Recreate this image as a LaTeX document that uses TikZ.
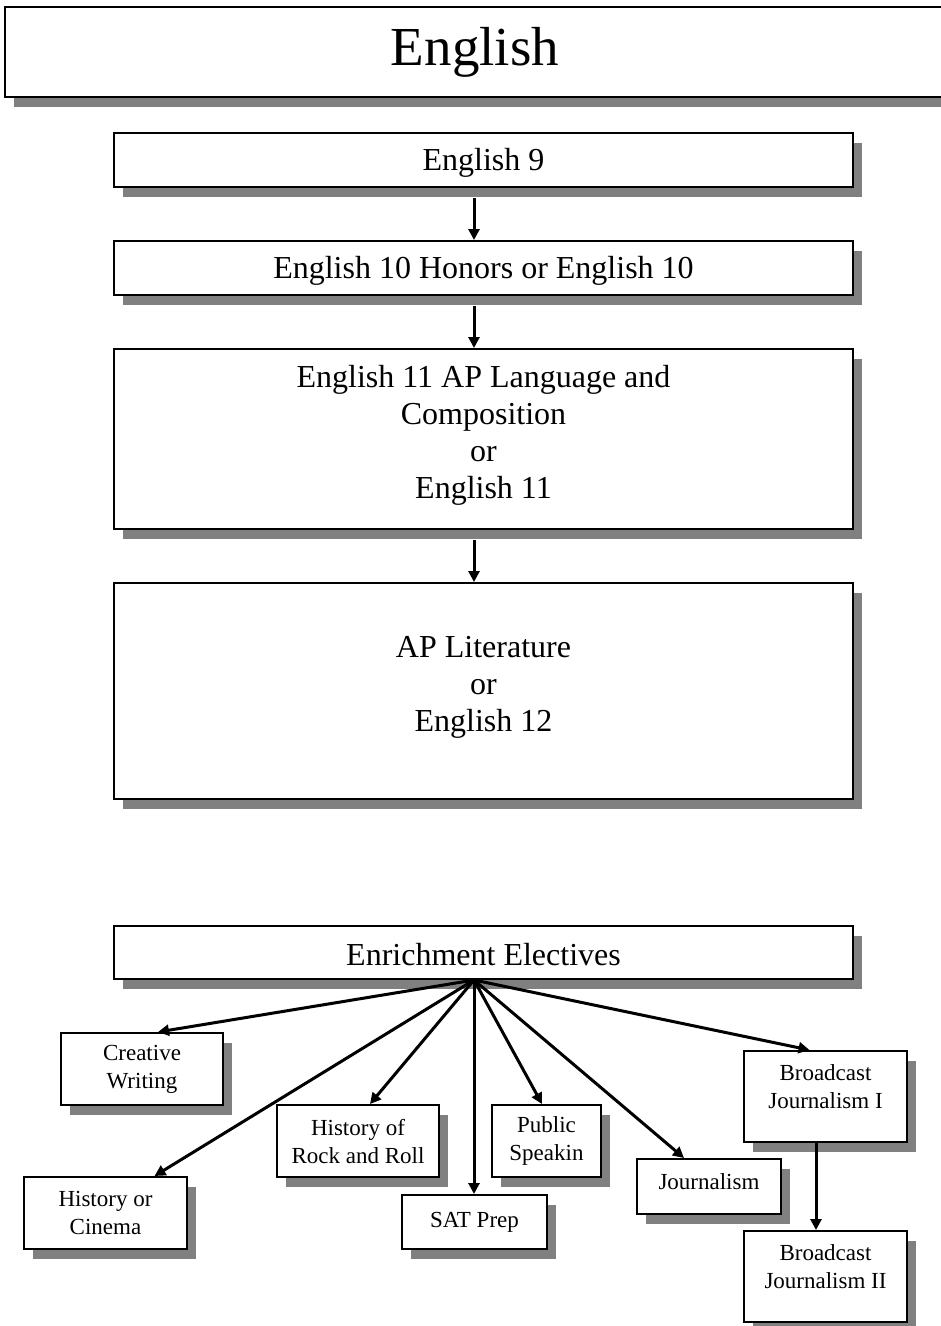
\documentclass[tikz,border=0pt]{standalone}
\usepackage{fontspec}
\setmainfont{Liberation Serif}
\usetikzlibrary{arrows.meta,shadows}

\begin{document}
\begin{tikzpicture}[x=1pt,y=1pt,
	course/.style={draw,line width=2pt,fill=white,align=center,inner sep=0pt,
		drop shadow={shadow xshift=9pt,shadow yshift=-10pt,fill=black!50,opacity=1},
		font=\fontsize{32}{37}\selectfont},
	elective/.style={course,font=\fontsize{23}{28}\selectfont},
	link/.style={line width=3pt,-{Triangle[length=11pt,width=11pt]}}]

					\useasboundingbox (0,0) rectangle (941,-1326);

					\node[course,minimum width=940,minimum height=90,font=\fontsize{55}{60}\selectfont] (title) at (475,-52) {English};

					\node[course,minimum width=739,minimum height=54] (e9) at (483.5,-160) {\rule{0pt}{28pt}English 9};
					\node[course,minimum width=739,minimum height=54] (e10) at (483.5,-268) {\rule{0pt}{28pt}English 10 Honors or English 10};
					\node[course,minimum width=739,minimum height=180] (e11) at (483.5,-439) {English 11 AP Language and\\Composition\\or\\English 11\rule[-14pt]{0pt}{0pt}};
					\node[course,minimum width=739,minimum height=216] (e12) at (483.5,-691) {AP Literature\\or\\English 12\rule[-15pt]{0pt}{0pt}};
					\node[course,minimum width=739,minimum height=53] (enrich) at (483.5,-952.5) {\rule{0pt}{26pt}Enrichment Electives};

					\node[elective,minimum width=162,minimum height=72] (cw) at (142,-1069) {Creative\\Writing};
					\node[elective,minimum width=163,minimum height=72] (hc) at (105.5,-1213) {History or\\Cinema};
					\node[elective,minimum width=162,minimum height=72] (rock) at (358,-1141) {History of\\Rock and Roll};
					\node[elective,minimum width=145,minimum height=54] (sat) at (474.5,-1222) {SAT Prep};
					\node[elective,minimum width=109,minimum height=72] (pub) at (546.5,-1141) {Public\\Speakin};
					\node[elective,minimum width=144,minimum height=55] (jour) at (709,-1186.5) {Journalism\rule[-9pt]{0pt}{0pt}};
					\node[elective,minimum width=163,minimum height=91] (bj1) at (825.5,-1096.5) {Broadcast\\Journalism I\rule[-19pt]{0pt}{0pt}};
					\node[elective,minimum width=163,minimum height=91] (bj2) at (825.5,-1276.5) {Broadcast\\Journalism II\rule[-19pt]{0pt}{0pt}};

					\coordinate (hub) at ([xshift=-9.5pt]enrich.south);

					\draw[link] ([xshift=-9.5pt,yshift=-10pt]e9.south) -- ([xshift=-9.5pt]e10.north);
					\draw[link] ([xshift=-9.5pt,yshift=-10pt]e10.south) -- ([xshift=-9.5pt]e11.north);
					\draw[link] ([xshift=-9.5pt,yshift=-10pt]e11.south) -- ([xshift=-9.5pt]e12.north);

					\draw[link] (hub) -- ([xshift=16pt]cw.north);
					\draw[link] (hub) -- ([xshift=49pt]hc.north);
					\draw[link] (hub) -- ([xshift=12pt]rock.north);
					\draw[link] (hub) -- (hub |- sat.north);
					\draw[link] (hub) -- ([xshift=-4.5pt]pub.north);
					\draw[link] (hub) -- ([xshift=-25pt]jour.north);
					\draw[link] (hub) -- ([xshift=-16pt]bj1.north);
					\draw[link] ([xshift=-9.5pt]bj1.south) -- ([xshift=-9.5pt]bj2.north);

				\end{tikzpicture}
\end{document}
